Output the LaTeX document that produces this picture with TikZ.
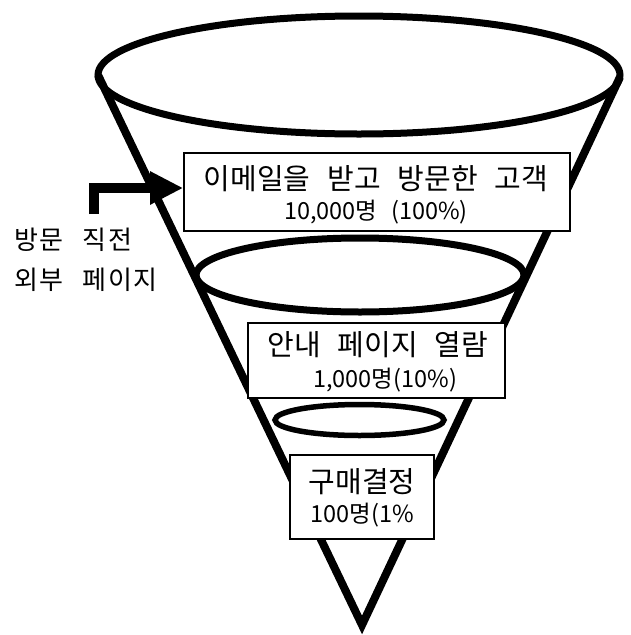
\documentclass[tikz,border=0pt]{standalone}
\usepackage{fontspec}
\newfontfamily\kr[WordSpace=2.6]{Noto Sans CJK KR}
\newfontfamily\krside[WordSpace=2.6,LetterSpace=6]{Noto Sans CJK KR}
\usetikzlibrary{arrows.meta}
\begin{document}
\begin{tikzpicture}[x=1pt,y=-1pt,
  funnel/.style={line width=8pt, line join=miter},
  rim/.style={line width=7pt},
  box/.style={draw, line width=1.6pt, fill=white, rectangle, inner sep=0pt},
  bigtxt/.style={inner sep=0pt, font=\kr\fontsize{29}{34}\selectfont},
  smalltxt/.style={inner sep=0pt, font=\kr\fontsize{23.5}{28}\selectfont},
  sidetxt/.style={inner sep=0pt, anchor=west, font=\krside\fontsize{26}{30}\selectfont},
  ]
\useasboundingbox (0,0) rectangle (630,635);
% funnel outline
\coordinate (topL) at (98,75);
\coordinate (topR) at (620,77);
\coordinate (tip) at (362,625);
\draw[funnel] (topL) -- (tip) -- (topR);
% rims
\draw[rim] (359,75) ellipse [x radius=261, y radius=59];
\draw[rim] (360,275) ellipse [x radius=164, y radius=37];
\draw[line width=5.5pt] (359.5,420) ellipse [x radius=84.5, y radius=15.5];
% boxes
\node[box, minimum width=386pt, minimum height=78pt] (b1) at (377,192) {};
\node[bigtxt] (b1a) at (376,179) {이메일을 받고 방문한 고객};
\node[smalltxt] (b1b) at (376,212) {10,000명 (100\%)};
\node[box, minimum width=257pt, minimum height=75pt] (b2) at (376.5,360.5) {};
\node[bigtxt] (b2a) at (378,345) {안내 페이지 열람};
\node[smalltxt] (b2b) at (385,380) {1,000명(10\%)};
\node[box, minimum width=144pt, minimum height=84pt] (b3) at (362,497) {};
\node[bigtxt] (b3a) at (362,482) {구매결정};
\node[smalltxt] (b3b) at (362,515) {100명(1\%};
% side label and arrow
\node[sidetxt] (s1) at (14,240) {방문 직전};
\node[sidetxt] (s2) at (14,280) {외부 페이지};
\coordinate (src) at (94,214);
\draw[line width=10pt, -{Triangle[length=33pt,width=31pt]}] (src) |- ([yshift=4pt]b1.west);
\end{tikzpicture}
\end{document}
